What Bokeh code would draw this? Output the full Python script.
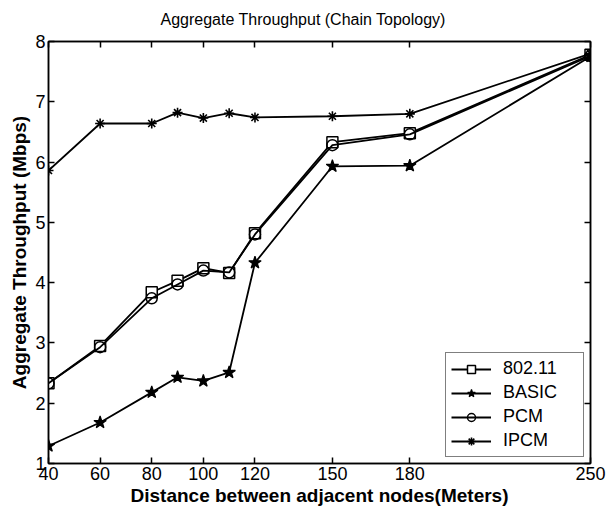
from bokeh.plotting import figure
from bokeh.models import (LinearAxis, FixedTicker, Range1d, Legend, LegendItem,
                          CustomLabelingPolicy)
from bokeh.embed import file_html
from bokeh.resources import INLINE

# Aggregate throughput (Mbps) versus distance between adjacent nodes (m)
distance = [40, 60, 80, 90, 100, 110, 120, 150, 180, 250]
ieee80211 = [2.33, 2.95, 3.84, 4.03, 4.24, 4.16, 4.82, 6.33, 6.48, 7.78]
basic = [1.29, 1.68, 2.18, 2.43, 2.37, 2.51, 4.33, 5.93, 5.94, 7.75]
pcm = [2.33, 2.93, 3.74, 3.97, 4.20, 4.17, 4.80, 6.28, 6.46, 7.76]
ipcm = [5.86, 6.64, 6.64, 6.82, 6.73, 6.81, 6.74, 6.76, 6.80, 7.80]

x_ticks = [40, 60, 80, 100, 120, 150, 180, 250]
y_ticks = [1, 2, 3, 4, 5, 6, 7, 8]

FONT = "Liberation Sans"

p = figure(width=607, height=515, output_backend="svg", toolbar_location=None,
           x_range=Range1d(40, 250), y_range=Range1d(1, 8),
           min_border_left=48, min_border_right=17, min_border_top=41,
           min_border_bottom=52)
p.background_fill_color = "white"
p.border_fill_color = "white"
p.grid.visible = False
p.outline_line_color = "black"
p.outline_line_width = 1.5

p.title.text = "Aggregate Throughput (Chain Topology)"
p.title.align = "left"
p.title.offset = 112
p.title.vertical_align = "top"
p.title.standoff = 16
p.title.text_font = FONT
p.title.text_font_size = "16px"
p.title.text_font_style = "normal"
p.title.text_color = "black"

# top and right axes carry tick marks only
no_labels = CustomLabelingPolicy(code="return new Set()")


def style_axis(ax, ticks, show_labels):
    ax.ticker = FixedTicker(ticks=ticks)
    ax.major_tick_in = 6
    ax.major_tick_out = 0
    ax.minor_tick_line_color = None
    ax.major_tick_line_color = "black"
    ax.major_tick_line_width = 1.5
    ax.axis_line_color = "black"
    ax.axis_line_width = 1.5
    ax.major_label_text_font = FONT
    ax.major_label_text_color = "black"
    if show_labels:
        ax.major_label_text_font_size = "18px"
        ax.major_label_standoff = 3
    else:
        ax.major_label_text_font_size = "1px"
        ax.major_label_standoff = 0
        ax.major_label_policy = no_labels


style_axis(p.xaxis[0], x_ticks, True)
style_axis(p.yaxis[0], y_ticks, True)
p.xaxis[0].axis_label = "Distance between adjacent nodes(Meters)"
p.yaxis[0].axis_label = "Aggregate Throughput (Mbps)"
for ax in (p.xaxis[0], p.yaxis[0]):
    ax.axis_label_text_font = FONT
    ax.axis_label_text_font_size = "19px"
    ax.axis_label_text_font_style = "bold"
    ax.axis_label_text_color = "black"
    ax.axis_label_standoff = 2

top_axis = LinearAxis()
style_axis(top_axis, x_ticks, False)
p.add_layout(top_axis, "above")
right_axis = LinearAxis()
style_axis(right_axis, y_ticks, False)
p.add_layout(right_axis, "right")

LW = 1.8
r1 = p.line(distance, ieee80211, line_color="black", line_width=LW)
m1 = p.scatter(distance, ieee80211, marker="square", size=11,
               fill_color="white", line_color="black", line_width=1.5)
r2 = p.line(distance, basic, line_color="black", line_width=LW)
m2 = p.scatter(distance, basic, marker="star", size=13,
               fill_color="black", line_color="black", line_width=1.2)
r3 = p.line(distance, pcm, line_color="black", line_width=LW)
m3 = p.scatter(distance, pcm, marker="circle", size=11,
               fill_color=None, line_color="black", line_width=1.5)
r4 = p.line(distance, ipcm, line_color="black", line_width=LW)
m4 = p.scatter(distance, ipcm, marker="asterisk", size=10,
               line_color="black", line_width=1.6)

legend = Legend(items=[
    LegendItem(label="802.11", renderers=[r1, m1]),
    LegendItem(label="BASIC", renderers=[r2, m2]),
    LegendItem(label="PCM", renderers=[r3, m3]),
    LegendItem(label="IPCM", renderers=[r4, m4]),
], location=(397, 6))
legend.margin = 0
legend.padding = 5
legend.spacing = 3
legend.glyph_width = 40
legend.glyph_height = 20
legend.label_height = 20
legend.label_width = 75
legend.label_standoff = 12
legend.label_text_font = FONT
legend.label_text_font_size = "18px"
legend.label_text_color = "black"
legend.border_line_color = "black"
legend.border_line_width = 1.2
legend.background_fill_color = "white"
legend.background_fill_alpha = 1
p.add_layout(legend, "center")

open("out.html", "w").write(file_html(p, INLINE))
